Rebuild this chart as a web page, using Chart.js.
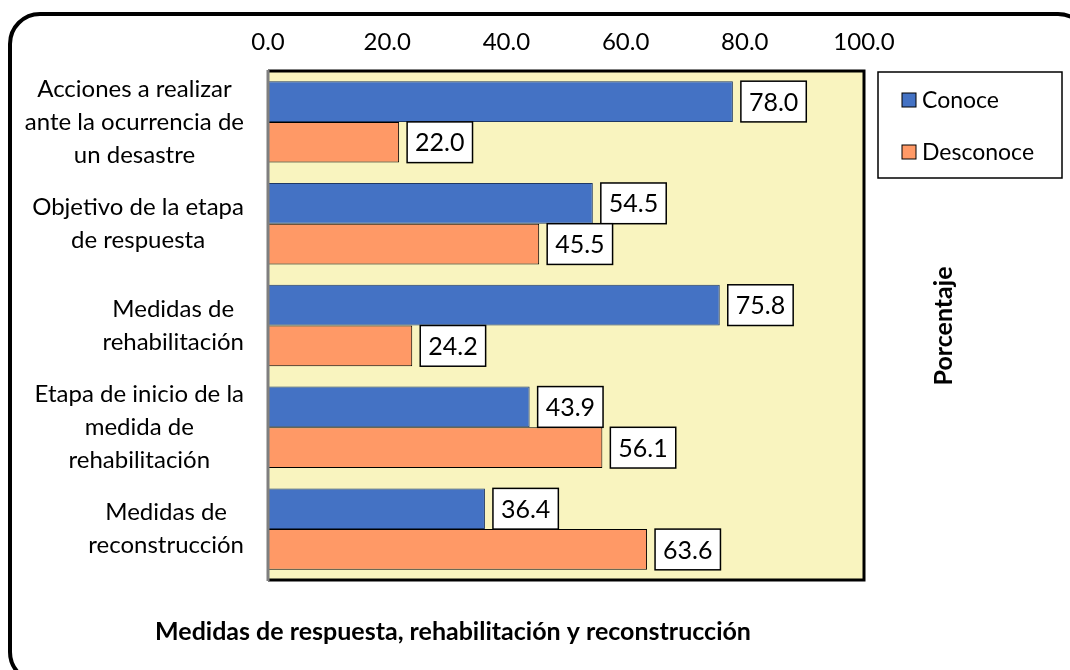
<!DOCTYPE html>
<html>
<head>
<meta charset="utf-8">
<script src="https://cdn.jsdelivr.net/npm/chart.js@4"></script>
<style>
  html, body { margin: 0; padding: 0; background: #fff; }
  #wrap { width: 1070px; height: 670px; position: relative; }
</style>
</head>
<body>
<div id="wrap"><canvas id="chart" width="1070" height="670"></canvas></div>
<script>
// categories (multi-line labels like the original)
const categories = [
    ['Acciones a realizar', 'ante la ocurrencia de', 'un desastre'],
    ['Objetivo de la etapa', 'de respuesta'],
    ['Medidas de', 'rehabilitación'],
    ['Etapa de inicio de la', 'medida de', 'rehabilitación'],
    ['Medidas de', 'reconstrucción']
];
const seriesNames = ['Conoce', 'Desconoce'];
const conoce = [78.0, 54.5, 75.8, 43.9, 36.4];
const desconoce = [22.0, 45.5, 24.2, 56.1, 63.6];
const xTicks = [0, 20, 40, 60, 80, 100];

const FONT = 'Lato, "Open Sans", sans-serif';
const BLUE = '#4472C4';
const ORANGE = '#FF9966';

// draws the frame, plot background, category labels, value boxes, legend and titles
const decorPlugin = {
    id: 'decor',
    beforeDraw(chart) {
        const c = chart.ctx;
        const a = chart.chartArea;
        c.save();
        c.fillStyle = '#fff';
        c.fillRect(0, 0, chart.width, chart.height);
        // outer rounded frame (runs off the right/bottom edge)
        c.beginPath();
        c.roundRect(10, 14, 1078, 668, 30);
        c.lineWidth = 4;
        c.strokeStyle = '#000';
        c.stroke();
        // plot background
        c.fillStyle = '#F9F4BF';
        c.fillRect(a.left, a.top, a.right - a.left, a.bottom - a.top);
        c.restore();
    },
    afterDatasetsDraw(chart) {
        const c = chart.ctx;
        const a = chart.chartArea;
        c.save();
        // plot border: gray left axis, black elsewhere
        c.lineWidth = 3;
        c.strokeStyle = '#000';
        c.beginPath();
        c.moveTo(a.left, a.top);
        c.lineTo(a.right, a.top);
        c.lineTo(a.right, a.bottom);
        c.lineTo(a.left, a.bottom);
        c.stroke();
        c.strokeStyle = '#7f7f7f';
        c.beginPath();
        c.moveTo(a.left, a.top - 1);
        c.lineTo(a.left, a.bottom + 1);
        c.stroke();

        // category labels: each block centred on its own widest line, right edge fixed
        const yScale = chart.scales.y;
        c.font = '24px ' + FONT;
        c.fillStyle = '#000';
        c.textAlign = 'center';
        c.textBaseline = 'middle';
        const lineH = 33;
        categories.forEach((lines, i) => {
            const yc = yScale.getPixelForTick(i);
            const bw = Math.max(...lines.map(l => c.measureText(l).width));
            const xc = 244 - bw / 2;
            lines.forEach((l, j) => {
                c.fillText(l, xc, yc + (j - (lines.length - 1) / 2) * lineH);
            });
        });

        // value boxes
        c.font = '25px ' + FONT;
        chart.data.datasets.forEach((ds, di) => {
            const meta = chart.getDatasetMeta(di);
            meta.data.forEach((el, i) => {
                const txt = ds.data[i].toFixed(1);
                const w = c.measureText(txt).width + 16;
                const h = el.height;
                const x = el.x + 8;
                const y = el.y - h / 2;
                c.fillStyle = '#fff';
                c.fillRect(x, y, w, h);
                c.lineWidth = 1.5;
                c.strokeStyle = '#000';
                c.strokeRect(x, y, w, h);
                c.fillStyle = '#000';
                c.fillText(txt, x + w / 2, el.y + 1);
            });
        });

        // legend
        c.lineWidth = 1.5;
        c.strokeStyle = '#000';
        c.fillStyle = '#fff';
        c.fillRect(878, 72, 184, 106);
        c.strokeRect(878, 72, 184, 106);
        c.font = '23px ' + FONT;
        c.textAlign = 'left';
        [BLUE, ORANGE].forEach((col, i) => {
            const yy = 100 + i * 52;
            c.fillStyle = col;
            c.fillRect(902, yy - 7, 14, 14);
            c.lineWidth = 1;
            c.strokeRect(902, yy - 7, 14, 14);
            c.fillStyle = '#000';
            c.fillText(seriesNames[i], 922, yy + 1);
        });

        // titles
        c.font = 'bold 25px ' + FONT;
        c.textAlign = 'center';
        c.fillText('Medidas de respuesta, rehabilitación y reconstrucción', 453, 632);
        c.save();
        c.translate(944, 326);
        c.rotate(-Math.PI / 2);
        c.fillText('Porcentaje', 0, 0);
        c.restore();
        c.restore();
    }
};

const ctx = document.getElementById('chart').getContext('2d');
const chart = new Chart(ctx, {
    type: 'bar',
    data: {
        labels: categories,
        datasets: [
            { label: seriesNames[0], data: conoce, backgroundColor: BLUE, borderColor: '#1f3864', borderWidth: 1 },
            { label: seriesNames[1], data: desconoce, backgroundColor: ORANGE, borderColor: '#000', borderWidth: 1 }
        ]
    },
    options: {
        indexAxis: 'y',
        responsive: false,
        animation: false,
        events: [],
        layout: { padding: { left: 8, right: 206, top: 11, bottom: 90 } },
        datasets: { bar: { categoryPercentage: 0.8, barPercentage: 1.0 } },
        plugins: {
            legend: { display: false },
            tooltip: { enabled: false }
        },
        scales: {
            x: {
                position: 'top',
                min: 0,
                max: 100,
                afterBuildTicks(scale) {
                    scale.ticks = xTicks.map(v => ({ value: v }));
                },
                afterFit(scale) { scale.height = 60; },
                grid: { display: false, drawTicks: false },
                border: { display: false },
                ticks: {
                    color: '#000',
                    padding: 14,
                    maxRotation: 0,
                    font: { size: 24, family: FONT },
                    callback: v => v.toFixed(1)
                }
            },
            y: {
                afterFit(scale) { scale.width = 260; },
                grid: { display: false, drawTicks: false },
                border: { display: false },
                ticks: { display: false, autoSkip: false }
            }
        }
    },
    plugins: [decorPlugin]
});
</script>
</body>
</html>
